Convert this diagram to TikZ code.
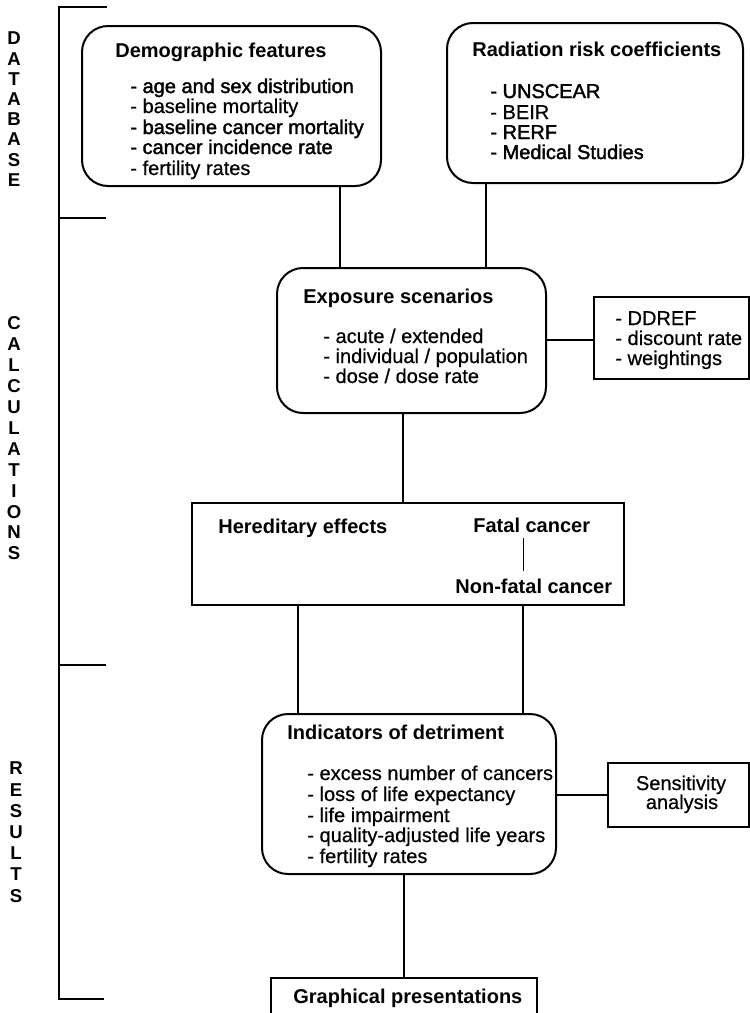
\documentclass[tikz,border=0pt]{standalone}
\usepackage{fontspec}
\setmainfont{Liberation Sans}
\newfontfamily\plainfont[FakeBold=0.6]{Liberation Sans}
\newfontfamily\heavyfont[FakeBold=1.8]{Liberation Sans}
\usetikzlibrary{fit,calc}

\begin{document}
\begin{tikzpicture}[x=0.5pt,y=-0.5pt,
  box/.style={draw, line width=1pt, inner sep=0pt},
  roundbox/.style={box, rounded corners=13pt},
  title/.style={anchor=base west, inner sep=0pt, font=\fontsize{10pt}{12pt}\selectfont\bfseries},
  item/.style={anchor=base west, inner sep=0pt, font=\fontsize{10pt}{12pt}\selectfont\plainfont},
  heavy/.style={anchor=base west, inner sep=0pt, font=\fontsize{10pt}{12pt}\selectfont\heavyfont},
  centred/.style={anchor=base, inner sep=0pt, font=\fontsize{10pt}{12pt}\selectfont\plainfont},
  side/.style={inner sep=0pt, font=\fontsize{9.3pt}{10pt}\selectfont\bfseries},
  link/.style={line width=1pt},
  thinlink/.style={line width=0.5pt}]

\useasboundingbox (0,0) rectangle (750,1013);
\clip (0,0) rectangle (750,1013);

% section bracket with its ticks
\coordinate (brtop) at (59,7);
\coordinate (brbot) at (59,999);
\draw[link] (107,7) -- (brtop) -- (brbot) -- (104,999);
\draw[link] (59,218) -- (106,218);
\draw[link] (59,665) -- (106,665);

% section names, one letter per line
\foreach \l [count=\i from 0] in {D,A,T,A,B,A,S,E}
  \node[side] (db\i) at (14,{38.5+20.2*\i}) {\l};
\foreach \l [count=\i from 0] in {C,A,L,C,U,L,A,T,I,O,N,S}
  \node[side] (ca\i) at (14,{323.5+20.9*\i}) {\l};
\foreach \l [count=\i from 0] in {R,E,S,U,L,T,S}
  \node[side] (re\i) at (16,{768.5+21.2*\i}) {\l};

% boxes
\node[roundbox, fit={(82,26) (381,186)}] (demo) {};
\node[roundbox, fit={(447,23) (743,183)}] (radi) {};
\node[roundbox, fit={(277,268) (546,413)}] (expo) {};
\node[box, fit={(594,297) (749,379)}] (ddref) {};
\node[box, fit={(192,503) (624,605)}] (hered) {};
\node[roundbox, fit={(262,714) (556,874)}] (indic) {};
\node[box, fit={(608,763) (749,827)}] (sens) {};
\node[box, fit={(271,978) (537,1030)}] (graph) {};

% Demographic features
\node[title] (demoT) at (115,57) {Demographic features};
\node[heavy] (demo1) at (130,93) {- age and sex distribution};
\node[item]  (demo2) at (130,113) {- baseline mortality};
\node[heavy] (demo3) at (130,134) {- baseline cancer mortality};
\node[heavy] (demo4) at (130,154) {- cancer incidence rate};
\node[item]  (demo5) at (130,175) {- fertility rates};

% Radiation risk coefficients
\node[title] (radiT) at (472,56) {Radiation risk coefficients};
\node[heavy] (radi1) at (490,98) {- UNSCEAR};
\node[item]  (radi2) at (490,119) {- BEIR};
\node[heavy] (radi3) at (490,139) {- RERF};
\node[heavy] (radi4) at (490,159) {- Medical Studies};

% Exposure scenarios
\node[title] (expoT) at (303,303) {Exposure scenarios};
\node[item] (expo1) at (323,343) {- acute / extended};
\node[item] (expo2) at (323,363) {- individual / population};
\node[item] (expo3) at (323,383) {- dose / dose rate};

% parameters
\node[item] (ddref1) at (615,325) {- DDREF};
\node[item] (ddref2) at (615,345) {- discount rate};
\node[item] (ddref3) at (615,365) {- weightings};

% health effects
\node[title] (heredT) at (218,533) {Hereditary effects};
\node[title] (fatal) at (473,532) {Fatal cancer};
\node[title] (nonfatal) at (455,593) {Non-fatal cancer};

% Indicators of detriment
\node[title] (indicT) at (287,739) {Indicators of detriment};
\node[item] (indic1) at (307,780) {- excess number of cancers};
\node[item] (indic2) at (307,801) {- loss of life expectancy};
\node[item] (indic3) at (307,822) {- life impairment};
\node[item] (indic4) at (307,842) {- quality-adjusted life years};
\node[item] (indic5) at (307,863) {- fertility rates};

% Sensitivity analysis
\node[centred] (sens1) at (681,790) {Sensitivity};
\node[centred] (sens2) at (682,809) {analysis};

% Graphical presentations
\node[title] (graphT) at (293,1003) {Graphical presentations};

% connectors
\coordinate (c340) at (340,0);
\coordinate (c486) at (486,0);
\coordinate (c403) at (403,0);
\coordinate (c298) at (298,0);
\coordinate (c523) at (523,0);
\coordinate (c404) at (404,0);
\coordinate (r340) at (0,340);
\coordinate (r795) at (0,795);

\draw[link] (demo.south -| c340) -- (expo.north -| c340);
\draw[link] (radi.south -| c486) -- (expo.north -| c486);
\draw[link] (expo.east |- r340) -- (ddref.west |- r340);
\draw[link] (expo.south -| c403) -- (hered.north -| c403);
\draw[link] (hered.south -| c298) -- (indic.north -| c298);
\draw[link] (hered.south -| c523) -- (indic.north -| c523);
\draw[link] (indic.east |- r795) -- (sens.west |- r795);
\draw[link] (indic.south -| c404) -- (graph.north -| c404);
\draw[thinlink] ([yshift=-3pt]fatal.base -| c523) -- ([yshift=3.5pt]nonfatal.north -| c523);

\end{tikzpicture}
\end{document}
